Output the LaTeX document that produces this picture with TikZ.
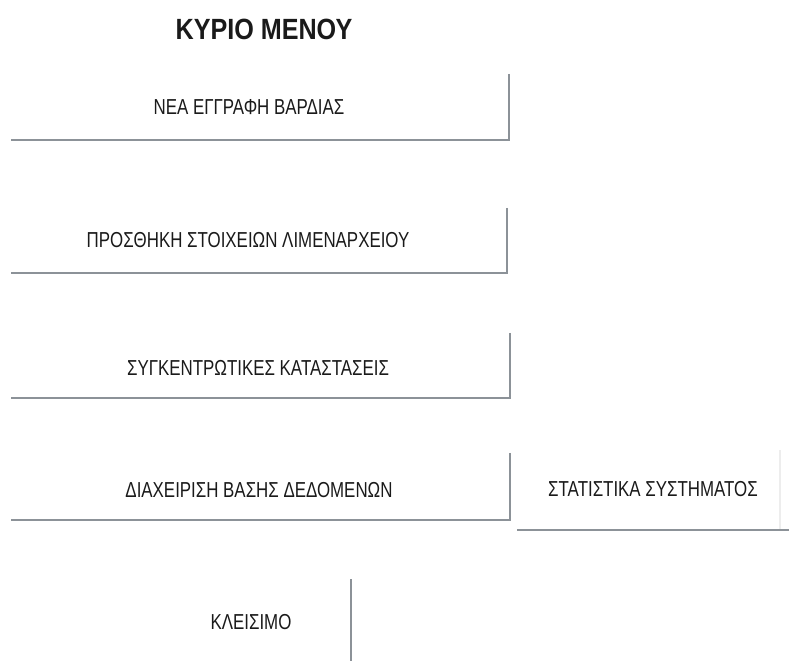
\documentclass[tikz,border=0pt]{standalone}
\usepackage{fontspec}
\setmainfont{Liberation Sans}
\newfontfamily\btnfont[FakeStretch=0.78]{Liberation Sans}
\newfontfamily\headfont[FakeStretch=0.86]{Liberation Sans}
\definecolor{edgegray}{HTML}{8C9298}
\definecolor{inkgray}{HTML}{1A1A1A}

\begin{document}
\begin{tikzpicture}[
  x=0.025cm,
  y=-0.025cm,
  head/.style={text=inkgray, inner sep=0pt, font=\headfont\bfseries\fontsize{20.8}{24}\selectfont},
  btn/.style={text=inkgray, inner sep=0pt, font=\btnfont\fontsize{15.4}{18}\selectfont},
  edge/.style={draw=edgegray, line width=1.3pt},
  faint/.style={draw=black!7, line width=1pt}
]

\useasboundingbox (0,0) rectangle (789,661);

\node[head] (title) at (264,29) {ΚΥΡΙΟ ΜΕΝΟΥ};

% Κουμπιά του μενού
\node[btn] (nea) at (249,107) {ΝΕΑ ΕΓΓΡΑΦΗ ΒΑΡΔΙΑΣ};
\node[btn] (prosthiki) at (248,240) {ΠΡΟΣΘΗΚΗ ΣΤΟΙΧΕΙΩΝ ΛΙΜΕΝΑΡΧΕΙΟΥ};
\node[btn] (katastaseis) at (258,368) {ΣΥΓΚΕΝΤΡΩΤΙΚΕΣ ΚΑΤΑΣΤΑΣΕΙΣ};
\node[btn] (diaxeirisi) at (259,490) {ΔΙΑΧΕΙΡΙΣΗ ΒΑΣΗΣ ΔΕΔΟΜΕΝΩΝ};
\node[btn] (statistika) at (653,489) {ΣΤΑΤΙΣΤΙΚΑ ΣΥΣΤΗΜΑΤΟΣ};
\node[btn] (kleisimo) at (251,622) {ΚΛΕΙΣΙΜΟ};

% Σκιές των κουμπιών (δεξιά και κάτω)
\draw[edge] (509,74) |- (11,140);
\draw[edge] (507,208) |- (11,273);
\draw[edge] (510,333) |- (11,398);
\draw[edge] (510,453) |- (11,520);
\draw[edge] (517,530) -- (789,530);
\draw[faint] (780,450) -- (780,529);
\draw[edge] (351,579) -- (351,661);

\end{tikzpicture}
\end{document}
